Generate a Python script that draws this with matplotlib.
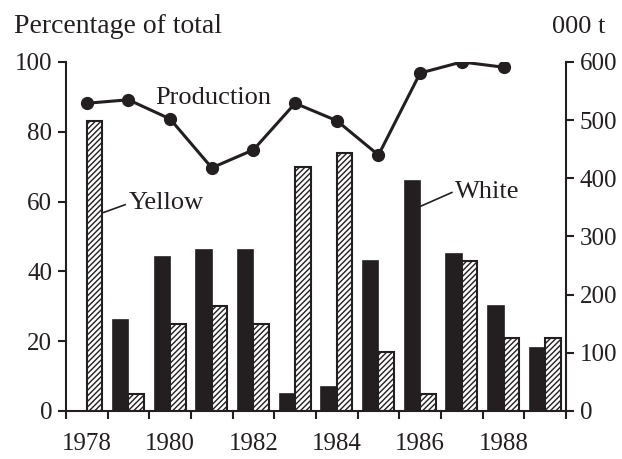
import numpy as np
import matplotlib
matplotlib.use('Agg')
import matplotlib.pyplot as plt

plt.rcParams['font.family'] = ['Liberation Serif', 'DejaVu Serif']
plt.rcParams['hatch.linewidth'] = 1.0

years = ['1978', '1979', '1980', '1981', '1982', '1983',
         '1984', '1985', '1986', '1987', '1988', '1989']
white = [0, 26, 44, 46, 46, 5, 7, 43, 66, 45, 30, 18]
yellow = [83, 5, 25, 30, 25, 70, 74, 17, 5, 43, 21, 21]
production = [529, 535, 502, 418, 449, 529, 499, 440, 581, 600, 591, np.nan]

dark = '#231f20'
fs = 18
x = np.arange(len(years))
w = 0.37

fig = plt.figure(figsize=(6.22, 4.59), dpi=100)
ax = fig.add_axes([0.106, 0.1046, 0.804, 0.7604])

ax.bar(x - w / 2, white, w, color=dark, edgecolor=dark, linewidth=1.2)
ax.bar(x + w / 2, yellow, w, color='white', edgecolor=dark, linewidth=1.5,
       hatch='//////')

ax.set_xlim(-0.5, len(years) - 0.5)
ax.set_ylim(0, 100)
ax.set_yticks([0, 20, 40, 60, 80, 100])
ax.set_xticks(np.arange(-0.5, len(years), 1))
ax.set_xticklabels([])
ax.set_xticks(x[::2], minor=True)
ax.set_xticklabels(years[::2], minor=True)
ax.tick_params(axis='x', which='minor', length=0, pad=16)
ax.tick_params(axis='x', which='major', length=6, width=1.5, color=dark)
ax.tick_params(axis='y', length=6, width=1.5, color=dark, pad=4)
ax.tick_params(which='both', labelsize=fs, labelcolor=dark)
for s in ['top', 'right']:
    ax.spines[s].set_visible(False)
for s in ['left', 'bottom']:
    ax.spines[s].set_linewidth(1.5)
    ax.spines[s].set_color(dark)

ax2 = ax.twinx()
ax2.plot(x, production, color=dark, linewidth=2.2, marker='o', markersize=8.5)
ax2.set_ylim(0, 600)
ax2.set_yticks([0, 100, 200, 300, 400, 500, 600])
ax2.tick_params(axis='y', length=6, width=1.5, color=dark, labelsize=fs,
                labelcolor=dark, pad=4)
for s in ['top', 'left', 'bottom']:
    ax2.spines[s].set_visible(False)
ax2.spines['right'].set_linewidth(1.5)
ax2.spines['right'].set_color(dark)

ax.text(1.64, 88, 'Production', fontsize=fs + 1, color=dark, va='baseline')
ax.text(1.0, 58, 'Yellow', fontsize=fs + 1, color=dark, va='baseline')
ax.plot([0.41, 0.92], [56.9, 59.1], color=dark, linewidth=1.2)
ax.text(8.83, 61.1, 'White', fontsize=fs + 1, color=dark, va='baseline')
ax.plot([8.0, 8.76], [58.6, 62.6], color=dark, linewidth=1.2)

fig.text(14 / 622, 1 - 33 / 459, 'Percentage of total', fontsize=fs + 2,
         color=dark, va='baseline')
fig.text(605 / 622, 1 - 33 / 459, '000 t', fontsize=fs + 1, color=dark,
         va='baseline', ha='right')

plt.savefig('out.png', dpi=100)
